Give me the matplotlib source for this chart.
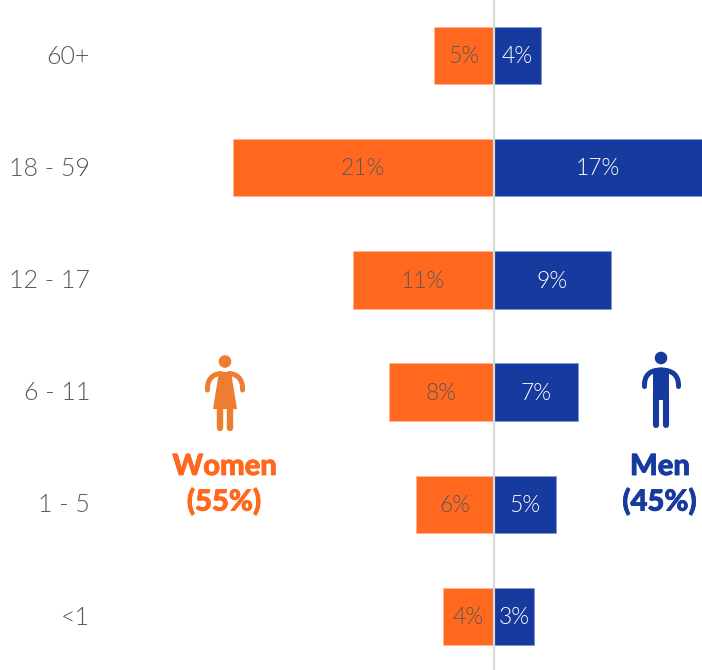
import matplotlib
matplotlib.use('Agg')
import matplotlib.pyplot as plt
from matplotlib import font_manager as fm
from matplotlib import patheffects
from matplotlib.patches import Circle, Polygon, PathPatch
from matplotlib.path import Path

ages = ['60+', '18 - 59', '12 - 17', '6 - 11', '1 - 5', '<1']
women = [4.8, 21.0, 11.35, 8.4, 6.25, 4.1]
men = [3.8, 16.8, 9.5, 6.8, 5.0, 3.3]
women_labels = ['5%', '21%', '11%', '8%', '6%', '4%']
men_labels = ['4%', '17%', '9%', '7%', '5%', '3%']

orange = '#FF681E'
blue = '#163A9E'
icon_orange = '#ED7D31'
grey = '#595959'
W, H = 702, 670
px_per_unit = 12.4
zero_x = 493.5
first_y = 55.5
step = 112.2


def lato(style, size):
    # the weight lookup picks Hairline for "light", so go by file name
    for path in fm.findSystemFonts():
        if path.endswith('Lato-%s.ttf' % style):
            return fm.FontProperties(fname=path, size=size)
    return fm.FontProperties(family='Lato', size=size)


light_big = lato('Light', 18)
light_small = lato('Light', 16.5)
black = lato('Black', 21)

fig = plt.figure(figsize=(W / 100, H / 100), dpi=100)
ax = fig.add_axes([0, 0, 1, 1])
ax.barh(range(len(ages)), [-v for v in women], height=0.51, color=orange, edgecolor='#FFB48F', linewidth=0.5)
ax.barh(range(len(ages)), men, height=0.51, color=blue, edgecolor='#7F94D0', linewidth=0.5)
ax.set_xlim(-zero_x / px_per_unit, (W - zero_x) / px_per_unit)
ax.set_ylim((H - first_y) / step, -first_y / step)
ax.axvline(0, color='#D9D9D9', linewidth=1.6)
ax.axis('off')

for i, age in enumerate(ages):
    ax.text((90 - zero_x) / px_per_unit, i + 0.01, age, ha='right', va='center', fontproperties=light_big, color=grey)
    ax.text(-women[i] / 2, i + 0.01, women_labels[i], ha='center', va='center', fontproperties=light_small, color=grey)
    ax.text(men[i] / 2, i + 0.01, men_labels[i], ha='center', va='center', fontproperties=light_small, color='white')

# icons and side captions live in a pixel overlay
ov = fig.add_axes([0, 0, 1, 1])
ov.set_xlim(0, W)
ov.set_ylim(H, 0)
ov.axis('off')
ov.patch.set_alpha(0)


def curve(points, color):
    codes = [Path.MOVETO] + [Path.CURVE4] * (len(points) - 1)
    ov.add_patch(PathPatch(Path(points, codes), fill=False, edgecolor=color, lw=3.6, capstyle='round'))


ov.add_patch(Circle((225, 361.5), 6.3, color=icon_orange, lw=0))
ov.add_patch(Polygon([(219, 372), (231, 372), (237, 409), (213, 409)], color=icon_orange, lw=0))
curve([(207.5, 390), (207, 380), (212, 374), (221, 373.5)], icon_orange)
curve([(242.5, 390), (243, 380), (238, 374), (229, 373.5)], icon_orange)
ov.plot([220, 220], [405, 428], color=icon_orange, lw=4.6, solid_capstyle='round')
ov.plot([229.5, 229.5], [405, 428], color=icon_orange, lw=4.6, solid_capstyle='round')

ov.add_patch(Circle((661, 358), 6.3, color=blue, lw=0))
ov.add_patch(Polygon([(653, 372), (669, 372), (669, 400), (653, 400)], color=blue, lw=0))
curve([(644.5, 386.5), (644, 375), (650, 370), (661, 370)], blue)
curve([(678.5, 386.5), (679, 375), (672, 370), (661, 370)], blue)
ov.plot([656, 656], [395, 424.5], color=blue, lw=4.4, solid_capstyle='round')
ov.plot([666, 666], [395, 424.5], color=blue, lw=4.4, solid_capstyle='round')

# slight stroke to reach the weight of the caption type
for x, y, label, color in [(224.5, 467, 'Women', orange), (224, 502, '(55%)', orange),
                           (660, 467, 'Men', blue), (659.5, 502, '(45%)', blue)]:
    t = ov.text(x, y, label, ha='center', va='center', fontproperties=black, color=color)
    t.set_path_effects([patheffects.withStroke(linewidth=0.6, foreground=color)])

fig.savefig('out.png', dpi=100)
